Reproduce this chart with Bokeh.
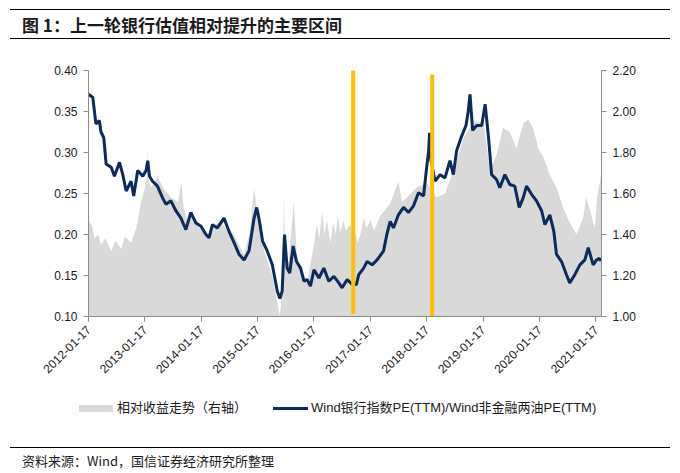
import math
import pandas as pd
from bokeh.plotting import figure
from bokeh.models import (Range1d, LinearAxis, FixedTicker, DatetimeTickFormatter,
                          NumeralTickFormatter, ColumnDataSource, Div)
from bokeh.layouts import column
from bokeh.embed import file_html
from bokeh.resources import INLINE

title_text = "图 1：上一轮银行估值相对提升的主要区间"
source_text = "资料来源：Wind，国信证券经济研究所整理"
area_label = "相对收益走势（右轴）"
line_label = "Wind银行指数PE(TTM)/Wind非金融两油PE(TTM)"

tick_labels = ["2012-01-17", "2013-01-17", "2014-01-17", "2015-01-17", "2016-01-17",
               "2017-01-17", "2018-01-17", "2019-01-17", "2020-01-17", "2021-01-17"]

pe_dates = ["2012-01-17", "2012-02-14", "2012-03-05", "2012-03-27", "2012-04-07", "2012-04-25",
            "2012-05-10", "2012-06-12", "2012-07-03", "2012-08-05", "2012-08-26", "2012-09-17",
            "2012-10-19", "2012-11-05", "2012-12-01", "2013-01-03", "2013-01-24", "2013-02-04",
            "2013-02-15", "2013-03-07", "2013-04-08", "2013-05-10", "2013-06-01", "2013-07-04",
            "2013-08-05", "2013-09-07", "2013-10-09", "2013-11-10", "2013-12-13", "2014-01-15",
            "2014-02-16", "2014-03-08", "2014-03-30", "2014-05-01", "2014-06-13", "2014-07-15",
            "2014-08-17", "2014-09-18", "2014-10-21", "2014-11-22", "2014-12-25", "2015-01-11",
            "2015-01-27", "2015-02-18", "2015-03-20", "2015-04-22", "2015-05-24", "2015-06-10",
            "2015-06-25", "2015-07-10", "2015-07-27", "2015-08-13", "2015-09-04", "2015-09-26",
            "2015-10-22", "2015-11-13", "2015-12-04", "2015-12-25", "2016-01-17", "2016-02-18",
            "2016-03-21", "2016-04-22", "2016-05-25", "2016-06-26", "2016-07-17", "2016-08-19",
            "2016-09-21", "2016-10-18", "2016-11-02", "2016-12-04", "2016-12-26", "2017-01-28",
            "2017-03-01", "2017-04-12", "2017-05-03", "2017-05-25", "2017-06-15", "2017-07-17",
            "2017-08-19", "2017-09-21", "2017-10-23", "2017-11-24", "2017-12-27", "2018-01-14",
            "2018-01-29", "2018-02-04", "2018-02-13", "2018-03-12", "2018-04-13", "2018-05-15",
            "2018-06-16", "2018-07-08", "2018-07-29", "2018-08-31", "2018-09-28", "2018-10-13",
            "2018-10-24", "2018-11-10", "2018-12-06", "2019-01-08", "2019-01-30", "2019-02-21",
            "2019-03-13", "2019-04-14", "2019-05-05", "2019-06-07", "2019-07-09", "2019-08-10",
            "2019-09-08", "2019-10-04", "2019-10-25", "2019-11-27", "2019-12-29", "2020-01-31",
            "2020-02-21", "2020-03-24", "2020-04-19", "2020-05-06", "2020-06-08", "2020-07-10",
            "2020-07-31", "2020-09-02", "2020-10-05", "2020-11-06", "2020-11-28", "2020-12-30",
            "2021-01-21", "2021-02-07", "2021-02-19"]
pe_ratio = [0.371, 0.367, 0.335, 0.339, 0.325, 0.318,
            0.286, 0.282, 0.271, 0.288, 0.273, 0.253,
            0.265, 0.247, 0.278, 0.271, 0.278, 0.290,
            0.271, 0.265, 0.259, 0.245, 0.237, 0.241,
            0.229, 0.220, 0.206, 0.227, 0.214, 0.210,
            0.200, 0.196, 0.212, 0.208, 0.220, 0.204,
            0.190, 0.176, 0.169, 0.180, 0.220, 0.233,
            0.218, 0.192, 0.180, 0.163, 0.131, 0.122,
            0.131, 0.200, 0.159, 0.153, 0.186, 0.167,
            0.159, 0.143, 0.145, 0.137, 0.157, 0.147,
            0.159, 0.143, 0.149, 0.141, 0.135, 0.145,
            0.139, 0.139, 0.151, 0.159, 0.167, 0.163,
            0.169, 0.180, 0.200, 0.216, 0.208, 0.224,
            0.233, 0.227, 0.235, 0.251, 0.247, 0.278,
            0.302, 0.324, 0.290, 0.265, 0.273, 0.269,
            0.290, 0.273, 0.302, 0.320, 0.333, 0.351,
            0.371, 0.327, 0.333, 0.333, 0.359, 0.318,
            0.273, 0.267, 0.257, 0.273, 0.261, 0.259,
            0.233, 0.245, 0.259, 0.249, 0.241, 0.229,
            0.212, 0.224, 0.204, 0.176, 0.167, 0.151,
            0.141, 0.151, 0.163, 0.169, 0.184, 0.163,
            0.169, 0.171, 0.168]

rel_dates = ["2012-01-17", "2012-02-10", "2012-02-25", "2012-03-20", "2012-04-07", "2012-05-05",
             "2012-06-12", "2012-07-10", "2012-08-15", "2012-09-10", "2012-10-19", "2012-11-21",
             "2012-12-23", "2013-01-14", "2013-02-01", "2013-02-04", "2013-02-10", "2013-02-26",
             "2013-04-08", "2013-05-21", "2013-07-04", "2013-08-20", "2013-09-10", "2013-09-25",
             "2013-10-20", "2013-11-20", "2013-12-24", "2014-02-27", "2014-04-10", "2014-05-22",
             "2014-07-01", "2014-08-17", "2014-10-21", "2014-11-25", "2014-12-25", "2015-01-15",
             "2015-02-28", "2015-04-22", "2015-05-24", "2015-06-10", "2015-06-28", "2015-07-06",
             "2015-07-15", "2015-08-07", "2015-09-08", "2015-09-30", "2015-11-05", "2015-12-04",
             "2016-01-17", "2016-02-05", "2016-02-20", "2016-03-10", "2016-03-25", "2016-04-10",
             "2016-05-03", "2016-05-20", "2016-06-05", "2016-06-20", "2016-07-07", "2016-07-25",
             "2016-08-10", "2016-09-10", "2016-09-25", "2016-10-05", "2016-10-25", "2016-11-13",
             "2016-12-05", "2016-12-20", "2017-01-17", "2017-02-10", "2017-03-21",
             "2017-05-25", "2017-07-17", "2017-08-10", "2017-09-10", "2017-11-14",
             "2018-01-18", "2018-03-22", "2018-05-15", "2018-07-08", "2018-09-11", "2018-11-15",
             "2019-01-19", "2019-03-03", "2019-04-14", "2019-05-27", "2019-07-09", "2019-08-21",
             "2019-10-04", "2019-11-05", "2019-12-08", "2020-01-09", "2020-02-10", "2020-03-24",
             "2020-05-06", "2020-06-18", "2020-07-31", "2020-09-13", "2020-10-26", "2020-11-15",
             "2020-12-09", "2021-01-10", "2021-01-25", "2021-02-19"]
rel_return = [1.47, 1.44, 1.38, 1.40, 1.35, 1.38,
              1.32, 1.37, 1.33, 1.39, 1.36, 1.43,
              1.56, 1.62, 1.70, 1.82, 1.66, 1.63,
              1.68, 1.62, 1.58, 1.56, 1.65, 1.53,
              1.47, 1.50, 1.44, 1.40, 1.44, 1.47,
              1.42, 1.40, 1.30, 1.40, 1.63, 1.50,
              1.32, 1.20, 1.07, 1.00, 1.15, 1.60,
              1.25, 1.27, 1.56, 1.27, 1.22, 1.17,
              1.35, 1.45, 1.38, 1.51, 1.40, 1.47,
              1.36, 1.46, 1.40, 1.49, 1.41, 1.47,
              1.42, 1.45, 1.37, 1.44, 1.36, 1.40,
              1.48, 1.43, 1.47, 1.42, 1.49,
              1.55, 1.66, 1.56, 1.58, 1.63,
              1.65, 1.58, 1.60, 1.71, 1.87, 1.95,
              1.95, 1.71, 1.79, 1.92, 1.90, 1.82,
              1.94, 1.96, 1.92, 1.82, 1.78, 1.69,
              1.63, 1.53, 1.46, 1.40, 1.48, 1.58,
              1.52, 1.43, 1.58, 1.69]

highlight_dates = ["2016-09-27", "2018-02-21"]
highlight_top = [0.402, 0.395]
highlight_bottom = [0.103, 0.097]

x_start, x_end = "2012-01-17", "2021-02-22"

CJK = "'Noto Sans CJK SC'"
LAT = "Liberation Sans"
GREY_AXIS = "#8C8C8C"
AREA_COLOR = "#D9D9D9"
LINE_COLOR = "#0C2A5B"

# ---------- title strip (HTML) ----------
title_div = Div(
    text=("<div style=\"margin:9px 0 0 10px; width:660px; border-top:1px solid #000; "
          "border-bottom:1.5px solid #000; height:30px; line-height:29px; padding-left:12px; "
          "box-sizing:border-box; font-family:" + CJK + "; font-weight:bold; font-size:17px; "
          "color:#1a1a1a; white-space:nowrap;\">" + title_text + "</div>"),
    width=680, height=45, margin=(0, 0, 0, 0))

# ---------- main chart ----------
ms = lambda s: pd.to_datetime(pd.Series(s)).astype("int64") // 10**6

pe_src = ColumnDataSource(dict(x=pd.to_datetime(pe_dates), y=pe_ratio))
rel_src = ColumnDataSource(dict(x=pd.to_datetime(rel_dates), y=rel_return,
                                base=[1.0] * len(rel_return)))
hl_src = ColumnDataSource(dict(x=pd.to_datetime(highlight_dates), top=highlight_top,
                               bottom=highlight_bottom))

p = figure(width=680, height=345, x_axis_type="datetime",
           x_range=Range1d(pd.Timestamp(x_start), pd.Timestamp(x_end)),
           y_range=Range1d(0.10, 0.40), toolbar_location=None, output_backend="svg",
           min_border_left=88, min_border_right=79, min_border_top=25, min_border_bottom=74,
           margin=(0, 0, 0, 0))
p.extra_y_ranges = {"right": Range1d(1.0, 2.2)}
p.outline_line_color = None
p.grid.visible = False

area = p.varea(x="x", y1="base", y2="y", source=rel_src, fill_color=AREA_COLOR,
               y_range_name="right")
line = p.line(x="x", y="y", source=pe_src, line_color=LINE_COLOR, line_width=3)
p.segment(x0="x", y0="bottom", x1="x", y1="top", source=hl_src,
          line_color="#FFC000", line_width=4, line_cap="butt")

right_axis = LinearAxis(y_range_name="right",
                        ticker=FixedTicker(ticks=[1.0, 1.2, 1.4, 1.6, 1.8, 2.0, 2.2]),
                        formatter=NumeralTickFormatter(format="0.00"))
p.add_layout(right_axis, "right")

p.yaxis[0].ticker = FixedTicker(ticks=[0.10, 0.15, 0.20, 0.25, 0.30, 0.35, 0.40])
p.yaxis[0].formatter = NumeralTickFormatter(format="0.00")

p.xaxis.ticker = FixedTicker(ticks=list(ms(tick_labels)))
fmt = "%Y-%m-%d"
p.xaxis.formatter = DatetimeTickFormatter(milliseconds=fmt, seconds=fmt, minsec=fmt, minutes=fmt,
                                          hourmin=fmt, hours=fmt, days=fmt, months=fmt, years=fmt)
p.xaxis.major_label_orientation = math.pi / 4

for ax in p.xaxis + p.yaxis:
    ax.axis_line_color = GREY_AXIS
    ax.major_tick_line_color = GREY_AXIS
    ax.minor_tick_line_color = None
    ax.major_tick_in = 0
    ax.major_tick_out = 5
    ax.major_label_text_font = LAT
    ax.major_label_text_font_size = "12px"
    ax.major_label_text_color = "#1a1a1a"
    ax.major_label_standoff = 6

# ---------- legend strip (HTML) ----------
legend_div = Div(
    text=("<div style=\"position:relative; width:680px; height:35px; font-family:'Liberation Sans', "
          + CJK + "; font-size:13px; color:#1a1a1a; white-space:nowrap;\">"
          "<span style=\"position:absolute; left:79px; top:15px; width:34px; height:7px; "
          "background:" + AREA_COLOR + ";\"></span>"
          "<span style=\"position:absolute; left:117px; top:9px; line-height:18px;\">"
          + area_label + "</span>"
          "<span style=\"position:absolute; left:273px; top:17px; width:35px; height:3px; "
          "background:" + LINE_COLOR + ";\"></span>"
          "<span style=\"position:absolute; left:311px; top:9px; line-height:18px;\">"
          + line_label + "</span></div>"),
    width=680, height=35, margin=(0, 0, 0, 0))

# ---------- footer (HTML) ----------
footer_div = Div(
    text=("<div style=\"margin:22px 0 0 10px; width:660px; border-top:1px solid #000; "
          "padding-left:12px; padding-top:4px; box-sizing:border-box; font-family:" + CJK +
          "; font-size:13px; line-height:17px; color:#1a1a1a; white-space:nowrap;\">"
          + source_text + "</div>"),
    width=680, height=48, margin=(0, 0, 0, 0))

layout = column(title_div, p, legend_div, footer_div, spacing=0)
open("out.html", "w").write(file_html(layout, INLINE))
